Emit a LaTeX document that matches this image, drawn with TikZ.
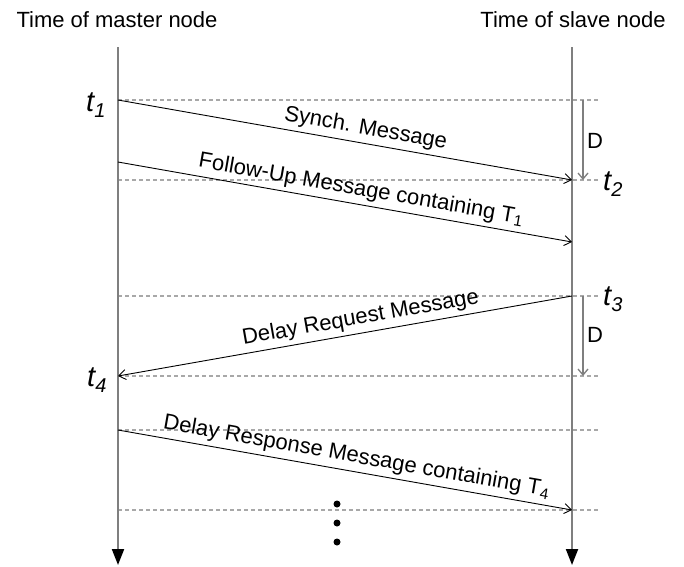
\documentclass[tikz,border=0pt]{standalone}
\usepackage{fontspec}
\setmainfont{Liberation Sans}
\usetikzlibrary{arrows.meta}
\definecolor{axisgray}{HTML}{7F7F7F}
\definecolor{dashgray}{HTML}{A8A8A8}
\newcommand{\tlab}[1]{{\fontsize{29}{32}\selectfont\itshape t\raisebox{-6pt}{\fontsize{20}{22}\selectfont #1}}}
\begin{document}
\begin{tikzpicture}[x=1pt,y=-1pt,
  axisline/.style={draw=axisgray,line width=2pt,-{Triangle[length=16pt,width=12pt,color=black,fill=black]}},
  gridline/.style={draw=dashgray,line width=1.4pt,dash pattern=on 4pt off 3pt},
  msg/.style={draw=black,line width=0.9pt,-{Straight Barb[length=7pt,width=10pt]}},
  darrow/.style={draw=axisgray,line width=1.3pt,-{Straight Barb[length=6pt,width=10pt]}},
  lbl/.style={font=\fontsize{22}{26}\selectfont,inner sep=0pt,sloped,above=4pt},
  head/.style={font=\fontsize{22}{26}\selectfont,inner sep=0pt,anchor=base},
  tnode/.style={inner sep=0pt,anchor=base west},
  dlabel/.style={font=\fontsize{22}{26}\selectfont,inner sep=0pt,anchor=base west},
  dotc/.style={circle,fill=black,inner sep=0pt,minimum size=7pt}]
\useasboundingbox (0,0) rectangle (684,566);
% headers
\node[head] (hm) at (117,27) {Time of master node};
\node[head] (hs) at (573,27) {Time of slave node};
% axes
\coordinate (mtop) at (118,47);
\coordinate (mbot) at (118,565);
\coordinate (stop) at (572,47);
\coordinate (sbot) at (572,565);
% grid line ends
\foreach \n/\y in {g1/100,g2/180,g3/296,g4/376,g5/430,g6/510}{
  \coordinate (\n L) at (118,\y);
  \coordinate (\n R) at (600,\y);
}
\foreach \n in {g1,g2,g3,g4,g5,g6}{
  \draw[gridline] (\n L) -- (\n R);
}
\draw[axisline] (mtop) -- (mbot);
\draw[axisline] (stop) -- (sbot);
% message endpoints
\coordinate (m1) at (118,100);
\coordinate (s1) at (572,180);
\coordinate (m2) at (118,162);
\coordinate (s2) at (572,242);
\coordinate (s3) at (572,296);
\coordinate (m3) at (118,376);
\coordinate (m4) at (118,430);
\coordinate (s4) at (572,510);
\draw[msg] (m1) -- node[lbl,pos=0.54] (l1) {Synch. Message} (s1);
\draw[msg] (m2) -- node[lbl,pos=0.53] (l2) {Follow-Up Message containing T\textsubscript{1}} (s2);
\draw[msg] (s3) -- node[lbl,pos=0.46] (l3) {Delay Request Message} (m3);
\draw[msg] (m4) -- node[lbl,pos=0.52] (l4) {Delay Response Message containing T\textsubscript{4}} (s4);
% D arrows
\coordinate (d1a) at (583,100);
\coordinate (d1b) at (583,180);
\coordinate (d2a) at (583,296);
\coordinate (d2b) at (583,376);
\draw[darrow] (d1a) -- (d1b);
\draw[darrow] (d2a) -- (d2b);
\node[dlabel] (D1) at (587,148) {D};
\node[dlabel] (D2) at (587,342) {D};
% time labels
\node[tnode] (t1) at (86,111) {\tlab{1}};
\node[tnode] (t2) at (603,190) {\tlab{2}};
\node[tnode] (t3) at (603,305) {\tlab{3}};
\node[tnode] (t4) at (87,386) {\tlab{4}};
% dots
\node[dotc] (dot1) at (337,504) {};
\node[dotc] (dot2) at (337,523) {};
\node[dotc] (dot3) at (337,542) {};
\end{tikzpicture}
\end{document}
